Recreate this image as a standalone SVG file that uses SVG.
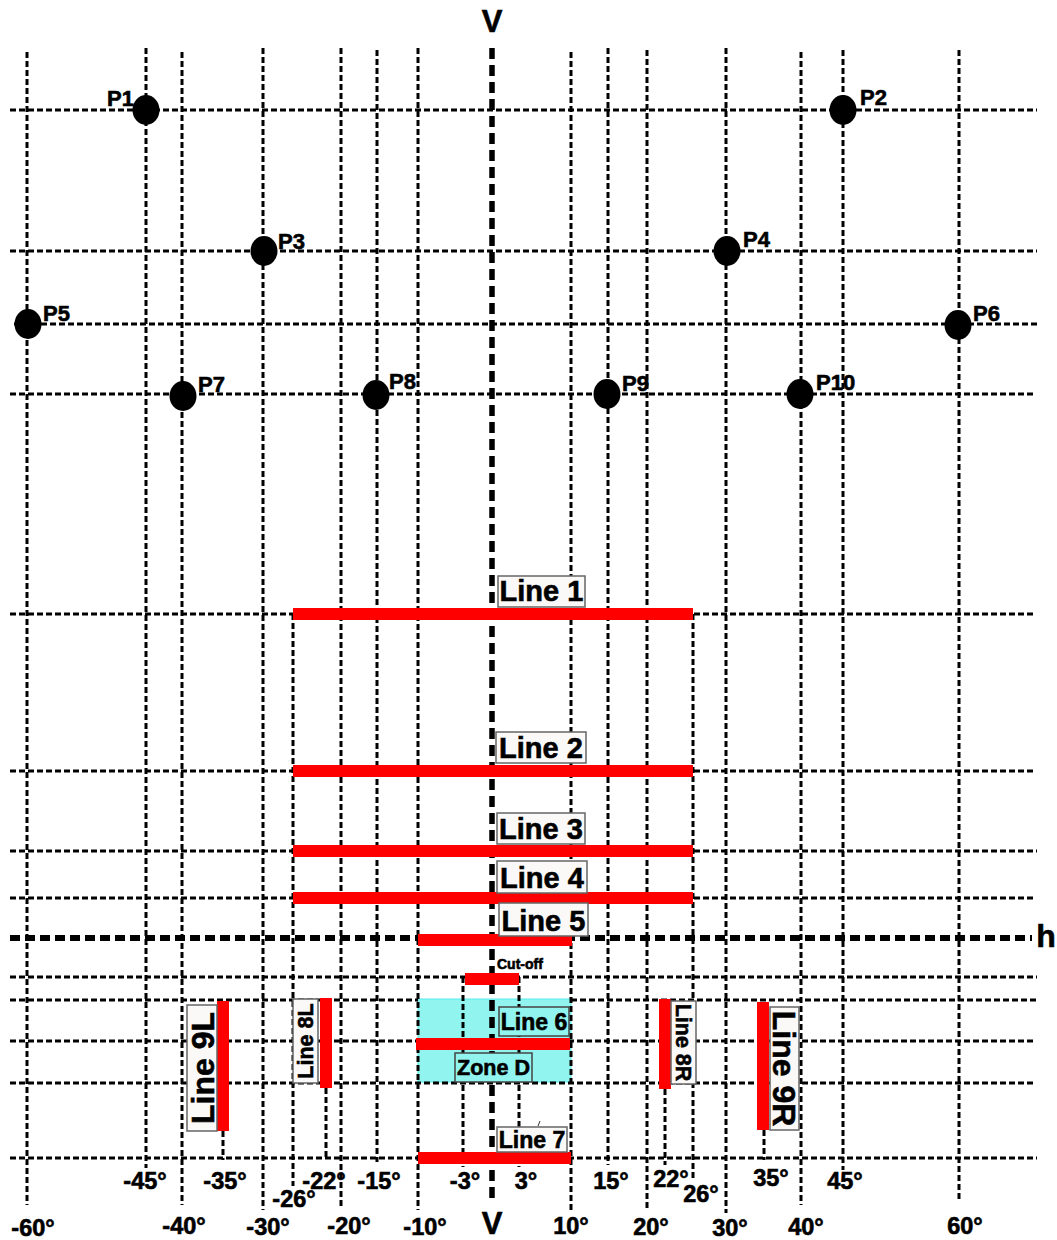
<svg xmlns="http://www.w3.org/2000/svg" width="1057" height="1240" viewBox="0 0 1057 1240">
<style>
.g{stroke:#000;stroke-width:3;stroke-dasharray:6 3;fill:none}
.gv{stroke:#000;stroke-width:3;stroke-dasharray:6 3;fill:none}
.vv{stroke:#000;stroke-width:5.5;stroke-dasharray:11 6;fill:none}
.hh{stroke:#000;stroke-width:6;stroke-dasharray:10 5;fill:none}
.red{stroke:#ff0000;stroke-width:12;fill:none}
.pt{fill:#000}
.t{font-family:"Liberation Sans",Arial,sans-serif;font-weight:bold;fill:#000;stroke:#000;stroke-width:0.6}
.box{fill:#fbf8f8;stroke:#666;stroke-width:1.5}
.cbox{fill:#91f4ef;stroke:#444;stroke-width:1.5}
.ax{font-size:23.5px}
</style>
<rect width="1057" height="1240" fill="#fff"/>
<g id="zoneD">
<rect x="418" y="999" width="153" height="83" fill="#91f4ef" stroke="#5ee" stroke-width="1"/>
</g>
<g id="grid">
<path class="g" d="M10 110H1037M10 251H1037M14 324H1037M10 394H1035M10 614H1035M10 771H1035M10 851H1037M10 898H1035M10 977H1037M10 1000H418M571 1000H1037M10 1041H1035M10 1083H1035M10 1158H1037"/>
<path class="gv" d="M27 52V1205M146 48V1168M182 52V1205M263 48V1210M341 48V1207M377 50V1162M418 48V1210M571 52V1210M608 48V1165M647 50V1210M726 48V1213M801 52V1205M843 50V1170M959 50V1200"/>
<path class="gv" d="M293 614V1186M693 614V1180M223 1131V1160M326 1088V1160M665 1089V1165M764 1130V1160M463 977V1167M519 977V1167"/>
<path class="vv" d="M492 48V1200"/>
<path class="hh" d="M10 938H1032"/>
</g>
<g id="points">
<g id="P1"><ellipse class="pt" cx="146" cy="110" rx="13.5" ry="15"/><text class="t" x="107" y="106" font-size="22">P1</text></g>
<g id="P2"><ellipse class="pt" cx="843" cy="110" rx="13.5" ry="15"/><text class="t" x="860" y="105" font-size="22">P2</text></g>
<g id="P3"><ellipse class="pt" cx="264" cy="251" rx="13.5" ry="15"/><text class="t" x="278" y="249" font-size="22">P3</text></g>
<g id="P4"><ellipse class="pt" cx="727" cy="251" rx="13.5" ry="15"/><text class="t" x="743" y="247" font-size="22">P4</text></g>
<g id="P5"><ellipse class="pt" cx="28" cy="324" rx="13.5" ry="15"/><text class="t" x="43" y="321" font-size="22">P5</text></g>
<g id="P6"><ellipse class="pt" cx="958" cy="325" rx="13.5" ry="15"/><text class="t" x="973" y="321" font-size="22">P6</text></g>
<g id="P7"><ellipse class="pt" cx="183" cy="396" rx="13.5" ry="15"/><text class="t" x="198" y="392" font-size="22">P7</text></g>
<g id="P8"><ellipse class="pt" cx="376" cy="395" rx="13.5" ry="15"/><text class="t" x="389" y="389" font-size="22">P8</text></g>
<g id="P9"><ellipse class="pt" cx="607" cy="394" rx="13.5" ry="15"/><text class="t" x="622" y="391" font-size="22">P9</text></g>
<g id="P10"><ellipse class="pt" cx="800" cy="394" rx="13.5" ry="15"/><text class="t" x="816" y="390" font-size="22">P10</text></g>
</g>
<g id="redlines">
<path class="red" d="M293 614H693M293 771H693M293 851H693M293 898H693M418 940H572M465 979H519"/>
<path class="red" stroke-width="13" d="M416 1044H570M418 1158H571"/>
<path class="red" stroke-width="11.5" d="M223 1001V1131M326 998V1088M665 999V1089M763 1002V1130"/>
</g>
<g id="labels">
<g id="Line1"><rect class="box" x="498" y="576" width="87" height="31"/><text class="t" x="541.5" y="601" font-size="29" text-anchor="middle">Line 1</text></g>
<g id="Line2"><rect class="box" x="496" y="732" width="90" height="31"/><text class="t" x="541" y="758" font-size="29" text-anchor="middle">Line 2</text></g>
<g id="Line3"><rect class="box" x="497" y="813" width="88" height="31"/><text class="t" x="541" y="839" font-size="29" text-anchor="middle">Line 3</text></g>
<g id="Line4"><rect class="box" x="497" y="861" width="90" height="32"/><text class="t" x="542" y="888" font-size="29" text-anchor="middle">Line 4</text></g>
<g id="Line5"><rect class="box" x="499" y="903" width="89" height="33"/><text class="t" x="543.5" y="931" font-size="29" text-anchor="middle">Line 5</text></g>
<g id="CutOff"><text class="t" x="497" y="969" font-size="14" stroke-width="0.3">Cut-off</text></g>
<g id="Line6"><rect class="cbox" x="499" y="1007" width="70" height="29"/><text class="t" x="534" y="1030" font-size="23" text-anchor="middle">Line 6</text></g>
<g id="ZoneDLabel"><rect class="cbox" x="455" y="1053" width="77" height="29"/><text class="t" x="493.5" y="1075" font-size="21.5" text-anchor="middle">Zone D</text></g>
<g id="Line7"><rect class="box" x="497" y="1127" width="70" height="25"/><text class="t" x="532" y="1148" font-size="23" text-anchor="middle">Line 7</text><path d="M538 1126L540 1121" stroke="#333" stroke-width="1"/></g>
<g id="Line9L"><rect class="box" x="187" y="1005" width="30" height="126"/><text class="t" font-size="32" text-anchor="middle" transform="translate(202 1068) rotate(-90)" y="11.5">Line 9L</text></g>
<g id="Line8L"><rect class="box" x="293" y="999" width="25" height="84"/><text class="t" font-size="21.5" text-anchor="middle" transform="translate(305.5 1041) rotate(-90)" y="7.5">Line 8L</text></g>
<g id="Line8R"><rect class="box" x="671" y="1001" width="25" height="83"/><text class="t" font-size="21.5" text-anchor="middle" transform="translate(683.5 1042.5) rotate(90)" y="7.5">Line 8R</text></g>
<g id="Line9R"><rect class="box" x="770" y="1007" width="29" height="123"/><text class="t" font-size="32" text-anchor="middle" transform="translate(784.5 1068.5) rotate(90)" y="11.5">Line 9R</text></g>
</g>
<g id="axis">
<text class="t" x="492" y="32" font-size="31" text-anchor="middle">V</text>
<text class="t" x="492" y="1234" font-size="31" text-anchor="middle">V</text>
<text class="t" x="1046" y="947" font-size="32" text-anchor="middle">h</text>
<text class="t ax" x="145" y="1189" text-anchor="middle">-45°</text>
<text class="t ax" x="225" y="1189" text-anchor="middle">-35°</text>
<text class="t ax" x="324" y="1189" text-anchor="middle">-22°</text>
<text class="t ax" x="379" y="1189" text-anchor="middle">-15°</text>
<text class="t ax" x="465" y="1189" text-anchor="middle">-3°</text>
<text class="t ax" x="526" y="1189" text-anchor="middle">3°</text>
<text class="t ax" x="611" y="1189" text-anchor="middle">15°</text>
<text class="t ax" x="671" y="1187" text-anchor="middle">22°</text>
<text class="t ax" x="771" y="1186" text-anchor="middle">35°</text>
<text class="t ax" x="845" y="1189" text-anchor="middle">45°</text>
<text class="t ax" x="294" y="1207" text-anchor="middle">-26°</text>
<text class="t ax" x="701" y="1202" text-anchor="middle">26°</text>
<text class="t ax" x="33" y="1236" text-anchor="middle">-60°</text>
<text class="t ax" x="184" y="1234" text-anchor="middle">-40°</text>
<text class="t ax" x="268" y="1235" text-anchor="middle">-30°</text>
<text class="t ax" x="349" y="1234" text-anchor="middle">-20°</text>
<text class="t ax" x="425" y="1235" text-anchor="middle">-10°</text>
<text class="t ax" x="571" y="1234" text-anchor="middle">10°</text>
<text class="t ax" x="651" y="1235" text-anchor="middle">20°</text>
<text class="t ax" x="730" y="1236" text-anchor="middle">30°</text>
<text class="t ax" x="806" y="1235" text-anchor="middle">40°</text>
<text class="t ax" x="965" y="1234" text-anchor="middle">60°</text>
</g>
</svg>
